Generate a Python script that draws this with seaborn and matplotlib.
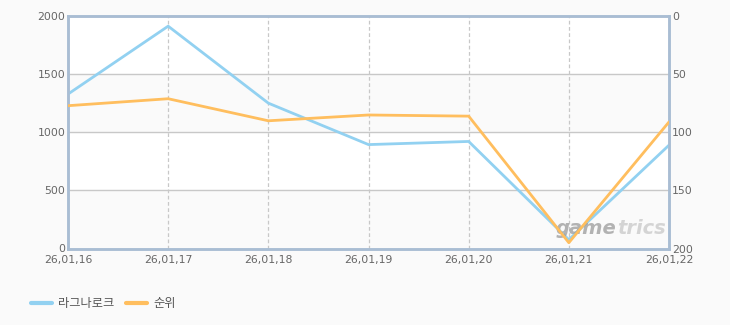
import matplotlib
matplotlib.use("Agg")
import matplotlib.pyplot as plt
import seaborn as sns
import pandas as pd
from matplotlib.lines import Line2D

dates = ["26,01,16", "26,01,17", "26,01,18", "26,01,19", "26,01,20", "26,01,21", "26,01,22"]
users = [1330, 1915, 1252, 895, 922, 76, 890]
ranks = [77, 71, 90, 85, 86, 195, 91]
left_ticks = [0, 500, 1000, 1500, 2000]
right_ticks = [0, 50, 100, 150, 200]
series_names = ["라그나로크", "순위"]

sns.set_theme(style="white")
plt.rcParams['font.family'] = ['Noto Sans CJK KR', 'DejaVu Sans']

blue = "#92d1f1"
orange = "#ffbe5e"
border = "#a9bdd3"
txt = "#666666"

df = pd.DataFrame({"date": dates, "x": range(len(dates)), "users": users, "rank": ranks})

fig = plt.figure(figsize=(7.3, 3.25), dpi=100)
fig.patch.set_facecolor("#fafafa")
ax = fig.add_axes([68/730, 1 - 248.5/325, 601/730, 232.2/325])
ax.set_facecolor("white")

# alternating bands
ax.axhspan(0, 500, color="#fafafa", zorder=0)
ax.axhspan(1000, 1500, color="#fafafa", zorder=0)
for v in left_ticks[1:-1]:
    ax.axhline(v, color="#c8c8c8", lw=1, zorder=1)
for i in range(1, len(dates) - 1):
    ax.axvline(i, color="#c8c8c8", lw=0.9, ls=(0, (3, 2)), zorder=1)

sns.lineplot(data=df, x="x", y="users", ax=ax, color=blue, lw=2, zorder=3, legend=False)
ax.set_xlim(0, len(dates) - 1)
ax.set_ylim(0, 2000)
ax.set_yticks(left_ticks)
ax.set_xticks(range(len(dates)))
ax.set_xticklabels(dates)
ax.set_xlabel("")
ax.set_ylabel("")

ax2 = ax.twinx()
sns.lineplot(data=df, x="x", y="rank", ax=ax2, color=orange, lw=2, zorder=3, legend=False)
ax2.set_ylim(200, 0)
ax2.set_yticks(right_ticks)
ax2.set_ylabel("")
ax2.set_xlim(0, len(dates) - 1)

for a in (ax, ax2):
    for s in a.spines.values():
        s.set_color(border)
        s.set_linewidth(1.8)
    a.tick_params(axis="both", labelsize=7.8, colors=txt, length=0, pad=1)
ax.tick_params(axis="y", pad=2)
ax2.tick_params(axis="y", pad=2)
for lab in ax.get_yticklabels() + ax2.get_yticklabels() + ax.get_xticklabels():
    lab.set_color(txt)
    lab.set_family(['DejaVu Sans'])
ax.tick_params(axis="x", pad=5)

# watermark
ax2.text(0.913, 0.088, "game", transform=ax.transAxes, fontsize=14, fontweight="bold",
         style="italic", color="#9a9a9a", alpha=0.75, ha="right", va="center", family="DejaVu Sans", zorder=2)
ax2.text(0.913, 0.088, "trics", transform=ax.transAxes, fontsize=14, fontweight="bold",
         style="italic", color="#c8c8c8", alpha=0.75, ha="left", va="center", family="DejaVu Sans", zorder=2)

handles = [Line2D([0], [0], color=blue, lw=3), Line2D([0], [0], color=orange, lw=3)]
leg = fig.legend(handles, series_names, loc="lower left", bbox_to_anchor=(20/730, 4/325),
                 ncol=2, frameon=False, fontsize=8.8, handlelength=1.7, columnspacing=1.0,
                 handletextpad=0.5)
for t in leg.get_texts():
    t.set_color("#555555")

fig.savefig("out.png", dpi=100, facecolor=fig.get_facecolor())
